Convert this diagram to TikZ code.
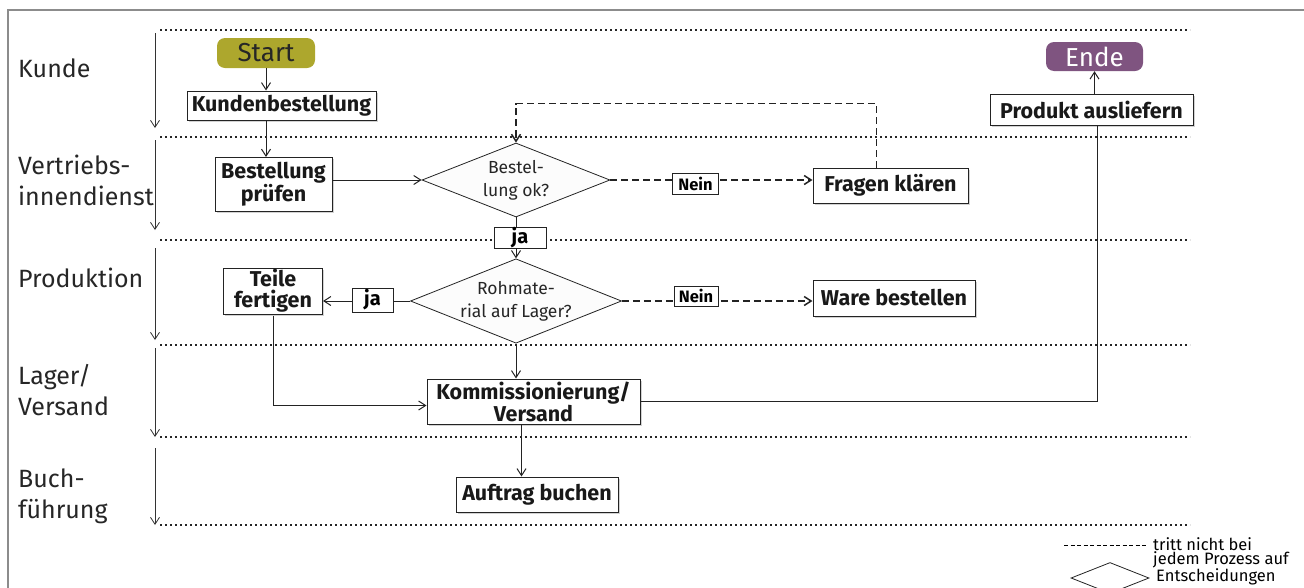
\documentclass[tikz,border=0pt]{standalone}
\usepackage{fontspec}
\setmainfont{Fira Sans}
\usetikzlibrary{arrows.meta}
\usetikzlibrary{shapes.geometric}
\usetikzlibrary{shadows}

\definecolor{startcol}{RGB}{173,167,45}
\definecolor{endecol}{RGB}{127,84,128}
\definecolor{linecol}{RGB}{35,35,35}

\tikzset{
  lane/.style={anchor=west, align=left, inner sep=0pt, text=black!85,
    font=\fontsize{25}{31}\selectfont},
  lanesep/.style={line width=1.8pt, dash pattern=on 1.8pt off 3.2pt, black!85},
  lanearr/.style={line width=0.8pt, black!80, -{Straight Barb[length=7pt,width=9pt]}},
  box/.style={draw=linecol, fill=white, line width=1pt, inner sep=0pt,
    align=center, text=black!90, font=\bfseries\fontsize{21.5}{23}\selectfont,
    drop shadow={shadow xshift=1.5pt, shadow yshift=-1.5pt, fill=black!35}},
  term/.style={rounded corners=8pt, inner sep=0pt, font=\fontsize{26}{26}\selectfont},
  dia/.style={diamond, draw=linecol, fill=black!1, line width=0.8pt, inner sep=0pt,
    aspect=2.5, align=center, text=black!85, font=\fontsize{17.5}{23}\selectfont},
  tag/.style={draw=linecol, fill=white, line width=1pt, inner sep=0pt,
    font=\bfseries\fontsize{20}{20}\selectfont},
  neintag/.style={tag, font=\bfseries\fontsize{16.5}{16.5}\selectfont},
  arr/.style={line width=1pt, linecol, -{Straight Barb[length=7pt,width=9pt]}},
  dsh/.style={line width=1.5pt, dash pattern=on 7pt off 4pt}
}

\begin{document}
\begin{tikzpicture}[x=1pt, y=-1pt]
\useasboundingbox (0,0) rectangle (1304,587);
\clip (0,0) rectangle (1304,587);
\draw [black!45, line width=1.5pt] (8,600) -- (8,10) -- (1310,10);

\foreach \y in {30,137,240,345,437,525}
  \draw [lanesep] (160,\y) -- (1190,\y);
\foreach \a/\b in {33/128, 140/230, 248/340, 348/437, 448/525}
  \draw [lanearr] (155,\a) -- (155,\b);

\node (kunde) at (18,68) [lane] {Kunde};
\node (vid) at (18,180) [lane] {Vertriebs-\\innendienst};
\node (prod) at (18,278) [lane] {Produktion};
\node (lager) at (18,390) [lane] {Lager/\\Versand};
\node (buch) at (18,496) [lane] {Buch-\\führung};

\node (start) at (266,53) [term, fill=startcol, text=black!85,
  minimum width=98pt, minimum height=30pt] {Start};
\node (ende) at (1094.5,56.5) [term, fill=endecol, text=white,
  minimum width=97pt, minimum height=29pt] {Ende};

\node (kb) at (281.5,105.5) [box, minimum width=189pt, minimum height=29pt] {Kundenbestellung};
\node (bp) at (273.5,184.5) [box, minimum width=117pt, minimum height=54pt] {Bestellung\\prüfen};
\node (fk) at (890.5,185.5) [box, minimum width=155pt, minimum height=35pt] {Fragen klären};
\node (wb) at (894,298) [box, minimum width=162pt, minimum height=36pt] {Ware bestellen};
\node (tf) at (273,291) [box, minimum width=99pt, minimum height=46pt,
  font=\bfseries\fontsize{21.5}{21}\selectfont] {Teile\\fertigen};
\node (kv) at (533.5,401.5) [box, minimum width=213pt, minimum height=45pt,
  font=\bfseries\fontsize{21.5}{22}\selectfont] {Kommissionierung/\\Versand};
\node (ab) at (537,494.5) [box, minimum width=162pt, minimum height=35pt] {Auftrag buchen};
\node (pa) at (1091.5,109.5) [box, minimum width=203pt, minimum height=31pt] {Produkt ausliefern};

\node (d1) at (516,180) [dia, minimum width=188pt, minimum height=74pt] {Bestel-\\lung ok?};
\node (d2) at (516,301) [dia, minimum width=204pt, minimum height=80pt] {Rohmate-\\rial auf Lager?};

\draw [arr] (start.south) -- (start.south |- kb.north);
\draw [arr] (kb.south -| start.south) -- (bp.north -| start.south);
\draw [arr] (bp.east |- d1.west) -- (d1.west);
\draw [arr] (d1.south) -- (d2.north);
\draw [arr, dsh] (d1.east) -- (fk.west |- d1.east);
\draw [arr, dsh] ([xshift=-14pt]fk.north) -- ++(0,-64) -| (d1.north);
\draw [arr, dsh] (d2.east) -- (wb.west |- d2.east);
\draw [arr] (d2.west) -- (d2.west -| tf.east);
\draw [arr] (d2.south) -- (d2.south |- kv.north);
\draw [arr] ([yshift=-1pt]tf.south) |- ([yshift=-4pt]kv.west);
\draw [arr] ([xshift=-12pt]kv.south) -- ([xshift=-12pt]kv.south |- ab.north);
\draw [line width=1pt, linecol] (kv.east) -| ([xshift=6pt]pa.south);
\draw [arr] ([xshift=3pt]pa.north) -- ([xshift=3pt]pa.north |- ende.south);

\node (ja1) at (520,238) [tag, minimum width=52pt, minimum height=20pt] {ja};
\node (ja2) at (372.5,300) [tag, minimum width=41pt, minimum height=24pt] {ja};
\node (nein1) at (695.5,184) [neintag, minimum width=46pt, minimum height=21pt] {Nein};
\node (nein2) at (696,296) [neintag, minimum width=44pt, minimum height=20pt] {Nein};

\coordinate (legA) at (1064,545);
\draw [line width=1pt, dash pattern=on 4pt off 2.5pt] (legA) -- ++(84,0);
\node (legdash) at (1153,553) [anchor=west, align=left, inner sep=0pt,
  font=\fontsize{16.5}{14.5}\selectfont] {tritt nicht bei\\jedem Prozess auf};
\node (legdia) at (1110,578) [diamond, draw=linecol, line width=0.8pt, inner sep=0pt,
  aspect=2.5, minimum width=78pt, minimum height=31pt] {};
\node (legtxt) at (1156,577) [anchor=west, inner sep=0pt,
  font=\fontsize{16.5}{15.5}\selectfont] {Entscheidungen};
\end{tikzpicture}
\end{document}
